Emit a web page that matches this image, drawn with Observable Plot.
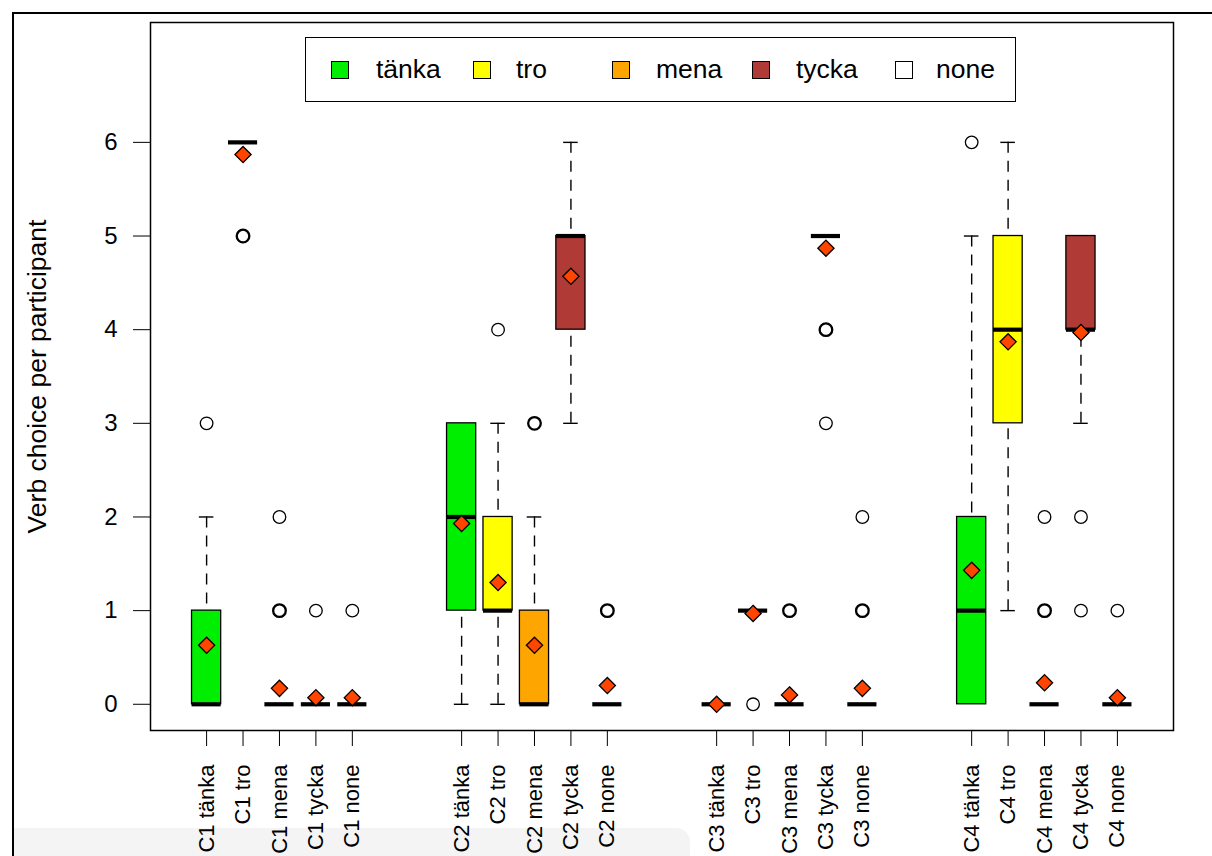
<!DOCTYPE html>
<html>
<head>
<meta charset="utf-8">
<script src="https://cdn.jsdelivr.net/npm/d3@7"></script>
<script src="https://cdn.jsdelivr.net/npm/@observablehq/plot@0.6"></script>
<style>
  html, body { margin: 0; padding: 0; background: #fff; }
  #wrap { position: relative; width: 1212px; height: 856px; overflow: hidden; background: #fff;
          font-family: "Liberation Sans", Arial, Helvetica, sans-serif; }
  #outer { position: absolute; left: 12px; top: 12px; width: 1210px; height: 850px;
           border-top: 2px solid #000; border-left: 2px solid #000; pointer-events: none; }
  #shade { position: absolute; left: 14px; top: 828px; width: 676px; height: 40px;
           background: #f4f4f4; border-top-right-radius: 14px; }
  #chart { position: absolute; left: 0; top: 0; }
  #legend { position: absolute; left: 305px; top: 37px; width: 711px; height: 65px;
            border: 1.5px solid #000; background: #fff; box-sizing: border-box; }
  .sw { position: absolute; top: 23px; width: 18px; height: 18px; box-sizing: border-box;
        border: 1.5px solid #000; }
  .lt { position: absolute; top: 14px; font-size: 26.5px; line-height: 34px; color: #000; }
</style>
</head>
<body>
<div id="wrap">
  <div id="shade"></div>
  <div id="chart"></div>
  <div id="outer"></div>
  <div id="legend"></div>
</div>
<script>
// ---- data ----
const conditions = ["C1", "C2", "C3", "C4"];
const verbs = ["tänka", "tro", "mena", "tycka", "none"];
const verbColors = ["#00EE00", "#FFFF00", "#FFA500", "#B03A35", "#FFFFFF"];

// per box, order: C1 tänka, C1 tro, ..., C4 none
const medians     = [0, 6, 0, 0, 0,   2, 1, 0, 5, 0,   0, 1, 0, 5, 0,   1, 4, 0, 4, 0];
const lowerHinge  = [0, 6, 0, 0, 0,   1, 1, 0, 4, 0,   0, 1, 0, 5, 0,   0, 3, 0, 4, 0];
const upperHinge  = [1, 6, 0, 0, 0,   3, 2, 1, 5, 0,   0, 1, 0, 5, 0,   2, 5, 0, 5, 0];
const lowerWhisk  = [0, 6, 0, 0, 0,   0, 0, 0, 3, 0,   0, 1, 0, 5, 0,   0, 1, 0, 3, 0];
const upperWhisk  = [2, 6, 0, 0, 0,   3, 3, 2, 6, 0,   0, 1, 0, 5, 0,   5, 6, 0, 5, 0];
const means       = [0.63, 5.87, 0.17, 0.07, 0.07,
                     1.93, 1.30, 0.63, 4.57, 0.20,
                     0.00, 0.97, 0.10, 4.87, 0.17,
                     1.43, 3.87, 0.23, 3.97, 0.07];
// outlying values (repeated values = several participants)
const outliers = [[3], [5, 5], [1, 1, 2], [1], [1],
                  [], [4], [3, 3], [], [1, 1],
                  [], [0], [1, 1], [4, 4, 3], [1, 1, 2],
                  [6], [], [1, 1, 2], [2, 1], [1]];
const yTicks = [0, 1, 2, 3, 4, 5, 6];
const yTitle = "Verb choice per participant";

// ---- build rows ----
const boxes = [];
conditions.forEach((c, g) => {
  verbs.forEach((v, k) => {
    const i = g * verbs.length + k;
    boxes.push({
      label: c + " " + v,
      pos: g * (verbs.length + 2) + k + 1,
      color: verbColors[k],
      med: medians[i], q1: lowerHinge[i], q3: upperHinge[i],
      wlo: lowerWhisk[i], whi: upperWhisk[i], mean: means[i]
    });
  });
});
const outRows = [];
boxes.forEach((b, i) => {
  const counts = d3.rollup(outliers[i], v => v.length, d => d);
  for (const [val, n] of counts) outRows.push({pos: b.pos, value: val, n});
});
const labelOf = new Map(boxes.map(b => [b.pos, b.label]));
const halfW = 0.4, staple = 0.2;

const plot = Plot.plot({
  width: 1212,
  height: 856,
  marginLeft: 150,
  marginRight: 39,
  marginTop: 22,
  marginBottom: 126,
  style: {fontFamily: "Liberation Sans, Arial, Helvetica, sans-serif", color: "#000", background: "transparent"},
  x: {domain: [-0.54, 27.54]},
  y: {domain: [-0.28, 7.28]},
  marks: [
    Plot.frame({fill: "#fff", stroke: null}),
    // whiskers (dashed), drawn from the whisker end towards the box
    Plot.ruleX(boxes.filter(d => d.whi > d.q3), {x: "pos", y1: "whi", y2: "q3", stroke: "#000", strokeWidth: 1.4, strokeDasharray: "11,8"}),
    Plot.ruleX(boxes.filter(d => d.wlo < d.q1), {x: "pos", y1: "wlo", y2: "q1", stroke: "#000", strokeWidth: 1.4, strokeDasharray: "11,8"}),
    // staples
    Plot.ruleY(boxes.filter(d => d.whi > d.q3), {y: "whi", x1: d => d.pos - staple, x2: d => d.pos + staple, stroke: "#000", strokeWidth: 1.4}),
    Plot.ruleY(boxes.filter(d => d.wlo < d.q1), {y: "wlo", x1: d => d.pos - staple, x2: d => d.pos + staple, stroke: "#000", strokeWidth: 1.4}),
    // boxes
    Plot.rect(boxes, {x1: d => d.pos - halfW, x2: d => d.pos + halfW, y1: "q1", y2: "q3", fill: "color", stroke: "#000", strokeWidth: 1.3}),
    // medians
    Plot.ruleY(boxes, {y: "med", x1: d => d.pos - halfW, x2: d => d.pos + halfW, stroke: "#000", strokeWidth: 4.2}),
    // outliers
    Plot.dot(outRows, {x: "pos", y: "value", r: 6.3, fill: "none", stroke: "#000", strokeWidth: d => d.n > 1 ? 2.3 : 1.3}),
    // means
    Plot.dot(boxes, {x: "pos", y: "mean", symbol: "diamond2", r: 7.3, fill: "#FF4500", stroke: "#000", strokeWidth: 1.3}),
    Plot.frame({stroke: "#000", strokeWidth: 1.5}),
    Plot.axisY({ticks: yTicks, tickSize: 17, tickPadding: 16, fontSize: 24, label: null, tickFormat: d => String(d)}),
    Plot.axisX({ticks: boxes.map(b => b.pos), tickFormat: d => labelOf.get(d), tickRotate: -90, tickSize: 16, tickPadding: 18, fontSize: 22, label: null}),
    Plot.text([yTitle], {frameAnchor: "left", dx: -113, rotate: -90, textAnchor: "middle", fontSize: 26.5, fill: "#000"})
  ]
});
document.getElementById("chart").appendChild(plot);

// ---- legend ----
const legend = document.getElementById("legend");
const swatchX = [25, 167, 306, 446, 589];
const textX = [70, 210, 350, 490, 630];
verbs.forEach((v, k) => {
  const s = document.createElement("div");
  s.className = "sw";
  s.style.left = swatchX[k] + "px";
  s.style.background = verbColors[k];
  legend.appendChild(s);
  const t = document.createElement("div");
  t.className = "lt";
  t.style.left = textX[k] + "px";
  t.textContent = v;
  legend.appendChild(t);
});
</script>
</body>
</html>
